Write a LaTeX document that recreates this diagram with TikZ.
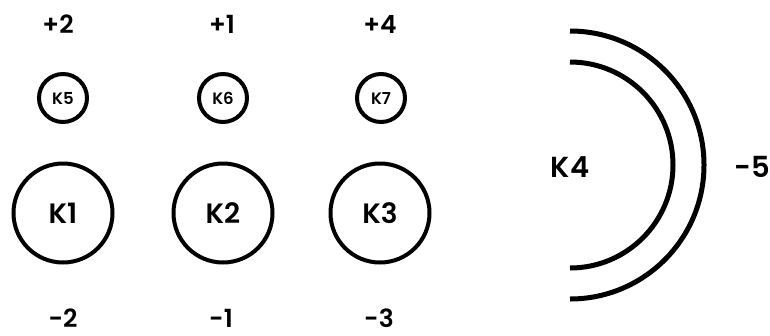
\documentclass[tikz,border=0pt]{standalone}
\usepackage{fontspec}
\setmainfont{Poppins}[BoldFont={Poppins SemiBold}]
\usepackage{tikz}
\usetikzlibrary{positioning}

\begin{document}
\begin{tikzpicture}[
    x=1pt, y=-1pt,
    bigring/.style={circle, draw=black, line width=4pt, minimum size=99pt, inner sep=0pt, font=\fontsize{28}{30}\selectfont\bfseries},
    smallring/.style={circle, draw=black, line width=4pt, minimum size=48pt, inner sep=0pt, font=\fontsize{16.5}{18}\selectfont\bfseries},
    val/.style={inner sep=0pt, anchor=base, font=\fontsize{25}{27}\selectfont\bfseries},
    bigval/.style={inner sep=0pt, anchor=base, font=\fontsize{29}{31}\selectfont\bfseries},
    shell/.style={line width=5pt, draw=black}
]
\useasboundingbox (0,0) rectangle (770,335);

% Large rings
\node[bigring] (k1) at (63, 213) {K1};
\node[bigring] (k2) at (223, 213) {K2};
\node[bigring] (k3) at (380, 213) {K3};

% Small rings
\node[smallring] (k5) at (63, 98) {K5};
\node[smallring] (k6) at (223, 98) {K6};
\node[smallring] (k7) at (381, 98) {K7};

% Charges above and below
\node[val] (q5) at (58, 33) {+2};
\node[val] (q6) at (222, 33) {+1};
\node[val] (q7) at (380, 33) {+4};
\node[val] (q1) at (63, 327) {-2};
\node[val] (q2) at (221, 327) {-1};
\node[val] (q3) at (379, 327) {-3};

% Half shells
\draw[shell] (570, 31) arc[start angle=90, end angle=-90, radius=134pt];
\draw[shell] (570, 62) arc[start angle=90, end angle=-90, radius=103pt];
\node[bigval] (k4) at (570, 177) {K4};
\node[bigval] (q4) at (752, 177) {-5};

\end{tikzpicture}
\end{document}
